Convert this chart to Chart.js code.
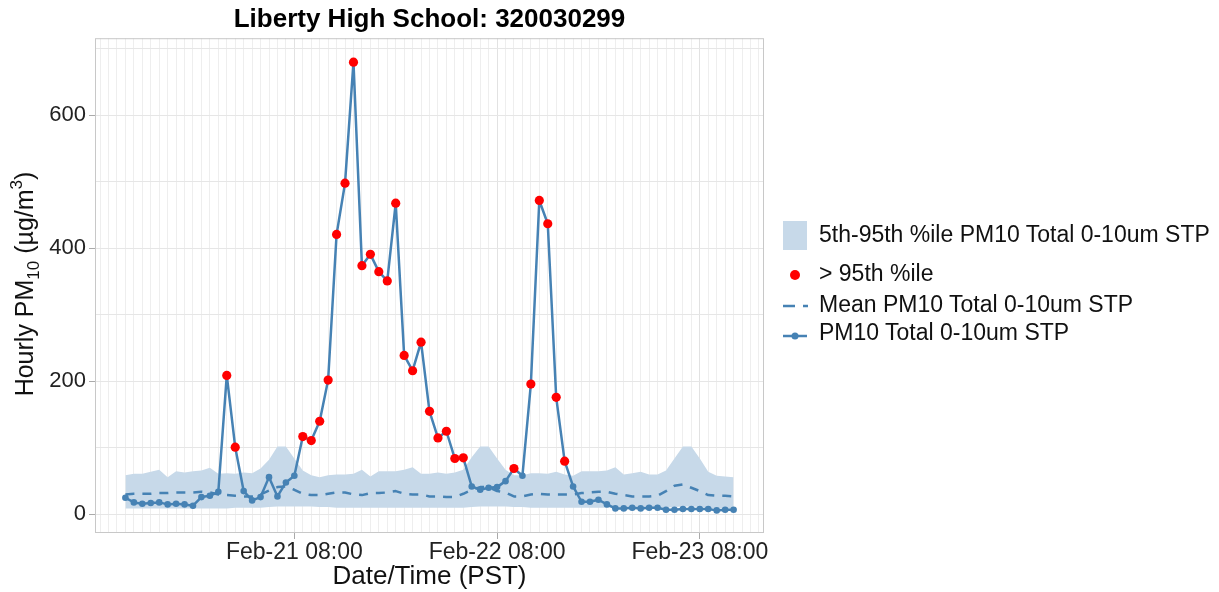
<!DOCTYPE html>
<html>
<head>
<meta charset="utf-8">
<script src="https://cdn.jsdelivr.net/npm/chart.js@4.4.1/dist/chart.umd.min.js"></script>
<style>
  body { margin: 0; background: #fff; }
  #wrap { position: relative; width: 1219px; height: 592px; font-family: 'Liberation Sans', Arial, sans-serif; }
  #c { position: absolute; left: 0; top: 0; }
  .legtxt { position: absolute; left: 819px; font-size: 23px; line-height: 26px; color: #111; white-space: nowrap; }
  #keys { position: absolute; left: 775px; top: 215px; }
</style>
</head>
<body>
<div id="wrap">
  <canvas id="c" width="1219" height="592"></canvas>
  <svg id="keys" width="45" height="135">
    <rect x="8" y="6" width="24" height="29" fill="rgb(199,217,233)"></rect>
    <circle cx="20" cy="60" r="5" fill="#ff0000"></circle>
    <line x1="8" y1="91" x2="33" y2="91" stroke="#4682b4" stroke-width="2.5" stroke-dasharray="12 8"></line>
    <line x1="8" y1="121" x2="32" y2="121" stroke="#4682b4" stroke-width="2.5"></line>
    <circle cx="20" cy="121" r="3.5" fill="#4682b4"></circle>
  </svg>
  <div class="legtxt" style="top:221px">5th-95th %ile PM10 Total 0-10um STP</div>
  <div class="legtxt" style="top:260px">&gt; 95th %ile</div>
  <div class="legtxt" style="top:291px">Mean PM10 Total 0-10um STP</div>
  <div class="legtxt" style="top:319px">PM10 Total 0-10um STP</div>
</div>
<script>
// hourly readings, Feb-20 12:00 -> Feb-23 12:00 (x = hours since first reading)
const tickHours = [20, 44, 68];
const tickLabels = ['Feb-21 08:00', 'Feb-22 08:00', 'Feb-23 08:00'];
const yTicks = [0, 100, 200, 300, 400, 500, 600, 700];
const yLabelled = [0, 200, 400, 600];

const pm10 = [25, 18, 16, 17, 18, 15, 16, 15, 13, 26,
              28, 34, 209, 101, 35, 21, 26, 56, 27, 48,
              58, 117, 111, 140, 202, 421, 498, 680, 374, 391,
              365, 351, 468, 239, 216, 259, 155, 115, 125, 84,
              85, 42, 37, 40, 41, 50, 69, 58, 196, 472,
              437, 176, 80, 42, 19, 19, 22, 15, 9, 9,
              10, 9, 10, 10, 7, 7, 8, 8, 8, 8,
              6, 7, 7];
const upper95 = [59, 61, 61, 64, 67, 56, 65, 63, 65, 66,
                 70, 61, 62, 61, 63, 62, 69, 82, 102, 102,
                 84, 66, 59, 56, 59, 60, 60, 61, 67, 57,
                 65, 65, 65, 67, 71, 61, 61, 63, 61, 63,
                 67, 86, 102, 102, 84, 67, 59, 59, 62, 62,
                 61, 64, 60, 58, 65, 65, 65, 66, 71, 60,
                 62, 64, 60, 60, 66, 84, 102, 102, 84, 64,
                 58, 57, 56];
const lower5 = [9, 9, 9, 9, 9, 9, 9, 9, 9, 9,
                9, 9, 9, 10, 10, 10, 10, 11, 12, 12,
                12, 12, 12, 11, 11, 10, 10, 10, 10, 10,
                10, 10, 10, 10, 10, 10, 10, 10, 10, 10,
                10, 11, 12, 12, 12, 12, 11, 11, 10, 10,
                10, 10, 10, 10, 10, 10, 10, 10, 10, 10,
                10, 10, 10, 10, 10, 11, 12, 12, 11, 10,
                9, 9, 9];
const meanPm10 = [30, 31, 31, 31, 32, 32, 33, 33, 33, 34,
                  33, 30, 29, 28, 27, 27, 30, 36, 41, 42,
                  37, 31, 29, 29, 31, 33, 33, 30, 29, 32,
                  32, 33, 35, 31, 30, 30, 27, 27, 26, 26,
                  31, 37, 41, 41, 35, 33, 27, 27, 30, 31,
                  30, 30, 30, 30, 32, 33, 34, 34, 31, 29,
                  27, 27, 27, 28, 35, 43, 45, 40, 35, 29,
                  28, 28, 27];

const steel = '#4682b4';
const band = 'rgb(199,217,233)';
const fam = "'Liberation Sans', Arial, sans-serif";

const pts = arr => arr.map((v, i) => ({ x: i, y: v }));
const over95 = pm10.map((v, i) => v > upper95[i] ? { x: i, y: v } : null).filter(p => p);

// panel border + y title with sub/superscript
const extras = {
    id: 'extras',
    afterDatasetsDraw(chart) {
        const { ctx, chartArea: a } = chart;
        ctx.save();
        ctx.strokeStyle = '#c8c8c8';
        ctx.lineWidth = 1;
        ctx.strokeRect(a.left + 0.5, a.top + 0.5, a.width - 1, a.height - 1);
        ctx.restore();
    },
    afterDraw(chart) {
        const { ctx } = chart;
        const parts = [['Hourly PM', 25, 0], ['10', 17, 6], [' (µg/m', 25, 0], ['3', 17, -11], [')', 25, 0]];
        ctx.save();
        ctx.fillStyle = '#111';
        ctx.textBaseline = 'alphabetic';
        let total = 0;
        parts.forEach(p => { ctx.font = p[1] + 'px ' + fam; total += ctx.measureText(p[0]).width; });
        ctx.translate(33, 284);
        ctx.rotate(-Math.PI / 2);
        let x = -total / 2;
        parts.forEach(p => {
            ctx.font = p[1] + 'px ' + fam;
            ctx.fillText(p[0], x, p[2]);
            x += ctx.measureText(p[0]).width;
        });
        ctx.restore();
    }
};

new Chart(document.getElementById('c'), {
    type: 'line',
    data: {
        datasets: [{
            label: 'upper',
            data: pts(upper95),
            borderWidth: 0,
            pointRadius: 0,
            backgroundColor: band,
            fill: '+1',
            order: 4
        }, {
            label: 'lower',
            data: pts(lower5),
            borderWidth: 0,
            pointRadius: 0,
            fill: false,
            order: 4
        }, {
            label: 'Mean PM10 Total 0-10um STP',
            data: pts(meanPm10),
            borderColor: steel,
            borderWidth: 2.5,
            borderDash: [9, 8],
            pointRadius: 0,
            fill: false,
            order: 3
        }, {
            label: 'PM10 Total 0-10um STP',
            data: pts(pm10),
            borderColor: steel,
            borderWidth: 2.5,
            pointRadius: 3.3,
            pointBackgroundColor: steel,
            pointBorderWidth: 0,
            fill: false,
            order: 2
        }, {
            label: '> 95th %ile',
            data: over95,
            showLine: false,
            pointRadius: 4.6,
            pointBackgroundColor: '#ff0000',
            pointBorderWidth: 0,
            order: 1
        }]
    },
    options: {
        responsive: false,
        animation: false,
        devicePixelRatio: 1,
        layout: { padding: { left: 0, right: 455, top: 0, bottom: 0 } },
        elements: { line: { tension: 0, borderJoinStyle: 'round' } },
        plugins: {
            legend: { display: false },
            tooltip: { enabled: false },
            title: {
                display: true,
                fullSize: false,
                text: 'Liberty High School: 320030299',
                color: '#000',
                font: { size: 26, weight: 'bold', family: fam },
                padding: { top: 4, bottom: 3 }
            }
        },
        scales: {
            x: {
                type: 'linear',
                min: -3.6,
                max: 75.6,
                afterBuildTicks: s => {
                    const t = [];
                    for (let h = -3; h <= 75; h++) t.push({ value: h });
                    s.ticks = t;
                },
                afterFit: s => { s.height = 59; },
                border: { display: false },
                grid: {
                    color: c => tickHours.includes(c.tick.value) ? '#e2e2e2' : '#eeeeee',
                    lineWidth: 1,
                    tickLength: 6,
                    tickColor: c => tickHours.includes(c.tick.value) ? '#aaaaaa' : 'rgba(0,0,0,0)'
                },
                ticks: {
                    autoSkip: false,
                    maxRotation: 0,
                    padding: 0,
                    color: '#222',
                    font: { size: 23, family: fam },
                    callback: v => {
                        const k = tickHours.indexOf(v);
                        return k < 0 ? '' : tickLabels[k];
                    }
                },
                title: {
                    display: true,
                    text: 'Date/Time (PST)',
                    color: '#111',
                    font: { size: 26, family: fam },
                    padding: { top: 0, bottom: 0 }
                }
            },
            y: {
                min: -28,
                max: 716,
                afterBuildTicks: s => { s.ticks = yTicks.map(v => ({ value: v })); },
                afterFit: s => { s.width = 95; },
                border: { display: false },
                grid: {
                    color: '#e6e6e6',
                    lineWidth: 1,
                    tickLength: 6,
                    tickColor: c => yLabelled.includes(c.tick.value) ? '#aaaaaa' : 'rgba(0,0,0,0)'
                },
                ticks: {
                    padding: 3,
                    color: '#222',
                    font: { size: 22, family: fam },
                    callback: v => yLabelled.includes(v) ? String(v) : ''
                }
            }
        }
    },
    plugins: [extras]
});
</script>
</body>
</html>
